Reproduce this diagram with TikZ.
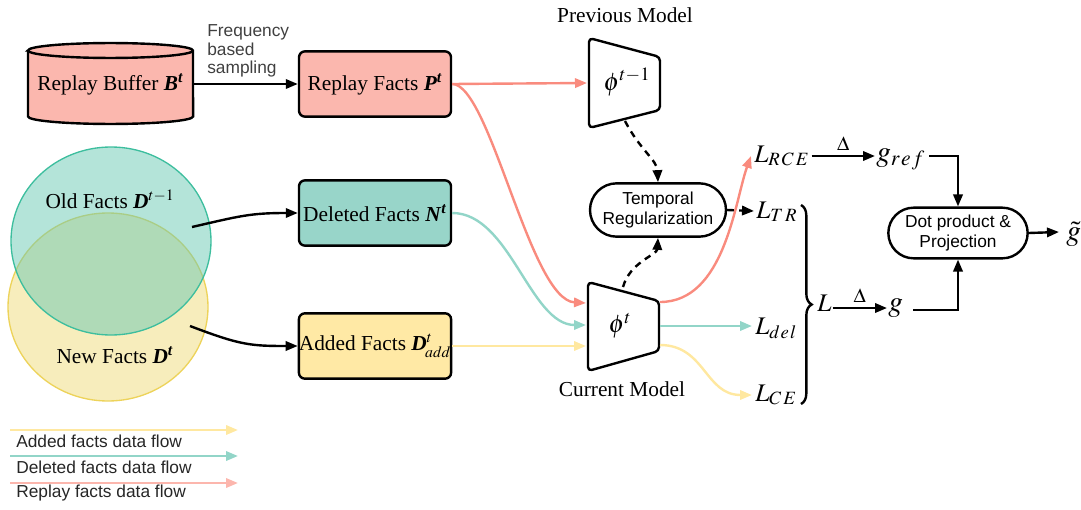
\documentclass[tikz,border=0pt]{standalone}
\usepackage{mathptmx}
\usepackage{fontspec}
\setmainfont{Liberation Serif}
\setsansfont{Liberation Sans}
\usetikzlibrary{arrows.meta,shapes.misc,decorations.pathreplacing,calc}
\definecolor{redflow}{HTML}{F98B7E}
\definecolor{redlight}{HTML}{FCB6AD}
\definecolor{tealflow}{HTML}{92D5C8}
\definecolor{yelflow}{HTML}{FFE8A0}
\definecolor{redfill}{HTML}{FBB7AE}
\definecolor{tealfill}{HTML}{98D5C9}
\definecolor{yelfill}{HTML}{FFE9A5}
\definecolor{oldfill}{HTML}{69C9B3}
\definecolor{olddraw}{HTML}{3DBE9E}
\definecolor{newfill}{HTML}{F7EDBC}
\definecolor{newdraw}{HTML}{EDD35A}
\definecolor{graytext}{HTML}{404040}
\newcommand\serifsz{\fontsize{16}{19}\selectfont}
\newcommand\sanssz{\sffamily\fontsize{13}{15}\selectfont}
\newcommand\mathsz{\fontsize{19}{22}\selectfont}
\newcommand\gsz{\fontsize{22}{26}\selectfont}
\newcommand\deltasz{\fontsize{15}{18}\selectfont}
\begin{document}
\begin{tikzpicture}[x=0.75pt,y=-0.75pt,
  lw/.style={line width=1.8pt},
  tip/.style={-{Triangle[length=9pt,width=7pt]}},
  blk/.style={lw,tip,black},
  rfl/.style={lw,tip,color=redflow},
  tfl/.style={lw,tip,color=tealflow},
  yfl/.style={lw,tip,color=yelflow},
  dsh/.style={lw,tip,black,dash pattern=on 5pt off 4pt},
  fbox/.style={draw=black,line width=1.8pt,rounded corners=4.5pt,minimum width=114pt,minimum height=49pt,inner sep=0pt,font=\serifsz},
  stad/.style={draw=black,line width=1.8pt,rounded rectangle,inner sep=1pt,font=\sanssz,align=center},
  trap/.style={draw=black,line width=1.8pt,rounded corners=3pt,line join=round},
  mth/.style={font=\mathsz,inner sep=0pt},
  gth/.style={font=\gsz,inner sep=0pt},
  lgd/.style={font=\sanssz,anchor=west,inner sep=0pt,text=black!85}
]
\useasboundingbox (0,0) rectangle (1081,510);

% Venn circles
\draw[newdraw,fill=newfill,line width=1pt] (108,307) ellipse [x radius=75pt,y radius=70.5pt];
\draw[olddraw,fill=oldfill,fill opacity=0.5,line width=1pt] (111,241) ellipse [x radius=75pt,y radius=70.5pt];
\node[font=\serifsz] (oldtxt) at (110,199) {Old Facts \textbf{\textit{D}}$^{t-1}$};
\node[font=\serifsz] (newtxt) at (115,355) {New Facts \textbf{\textit{D}}\textsuperscript{\textbf{\textit{t}}}};
\coordinate (oldout) at (192,227);
\coordinate (newout) at (190,326);

% Replay buffer cylinder
\draw[line width=1.8pt,fill=redfill] (28,50.5) -- (28,116.5) arc[start angle=180,end angle=360,x radius=61.9pt,y radius=5.6pt] -- (193,50.5) arc[start angle=0,end angle=180,x radius=61.9pt,y radius=5.6pt] -- cycle;
\draw[line width=1.8pt] (28,50.5) arc[start angle=180,end angle=360,x radius=61.9pt,y radius=5.6pt];
\node[font=\serifsz,minimum width=123.75pt,inner sep=0pt] (buf) at (110.5,84) {Replay Buffer \textbf{\textit{B}}\textsuperscript{\textbf{\textit{t}}}};

% fact boxes
\node[fbox,fill=redfill] (rf) at (375,84) {Replay Facts \textbf{\textit{P}}\textsuperscript{\textbf{\textit{t}}}};
\node[fbox,fill=tealfill] (dl) at (375,213) {Deleted Facts \textbf{\textit{N}}\textsuperscript{\textbf{\textit{t}}}};
\node[fbox,fill=yelfill] (ad) at (375,346) {Added Facts \textbf{\textit{D}}$^{t}_{\!add}$};

\node[font=\sanssz,text=graytext,align=left,anchor=west,inner sep=0pt] (freq) at (207,51) {Frequency\\[-1pt]based\\[-1pt]sampling};

% models
\draw[trap] (589,38) -- (660,57) -- (660,110) -- (589,128) -- cycle;
\draw[trap] (588,282) -- (659,301) -- (659,351) -- (588,371) -- cycle;
\node[mth] (prevphi) at (627,82) {$\phi^{t-1}$};
\node[mth] (curphi) at (620,326) {$\phi^{t}$};
\node[font=\serifsz] (prevlbl) at (625,15) {Previous Model};
\node[font=\serifsz] (curlbl) at (622,389) {Current Model};
\coordinate (previn) at (587,83);
\coordinate (prevbot) at (625,121);
\coordinate (curinr) at (586,303);
\coordinate (curint) at (586,325);
\coordinate (curiny) at (586,346);
\coordinate (curtop) at (623,287);
\coordinate (curoutr) at (660,302);
\coordinate (curoutt) at (660,326);
\coordinate (curouty) at (660,345);

\node[stad,minimum width=104pt,minimum height=40pt] (tr) at (658,210) {Temporal\\Regularization};
\node[stad,minimum width=106.5pt,minimum height=38pt] (dot) at (958,233) {Dot product \&\\Projection};

% loss labels
\node[mth,anchor=base west] (lrce) at (754,162) {$L_{R\mkern2mu C\mkern2mu E}$};
\node[mth,anchor=base west] (ltr) at (756,218) {$L_{T\mkern2mu R}$};
\node[mth,anchor=base west] (ldel) at (755,334) {$L_{d\mkern1mu e\mkern1mu l}$};
\node[mth,anchor=base west] (lce) at (755,401) {$L_{C\mkern2mu E}$};
\node[mth,anchor=base west] (lall) at (817,311) {$L$};
\node[gth,anchor=base west] (gref) at (876,161) {$g_{r\mkern1mu e\mkern1mu f}$};
\node[gth,anchor=base west] (gg) at (888,311) {$g$};
\node[gth,anchor=base west] (gt) at (1066,240) {$\tilde{g}$};

% brace
\draw[decorate,decoration={brace,amplitude=8pt},line width=1.8pt] (801,205) -- (801,404);

% data flows
\draw[rfl] (rf.east) -- (previn);
\draw[rfl] (rf.east) .. controls (490,84) and (530,300) .. (curinr);
\draw[tfl] (dl.east) .. controls (510,213) and (530,325) .. (curint);
\draw[yfl] (ad.east) -- (curiny);
\draw[rfl] (curoutr) .. controls (725,302) and (735,200) .. ($(lrce.base west)+(-3,-6)$);
\draw[tfl] (curoutt) -- ($(ldel.base west)+(-3,-8)$);
\draw[yfl] (curouty) .. controls (705,345) and (705,395) .. ($(lce.base west)+(-3,-6)$);

% black arrows
\draw[blk] (buf.east) -- (rf.west);
\draw[blk] (oldout) .. controls (240,216) and (250,213) .. (dl.west);
\draw[blk] (newout) .. controls (240,345) and (250,346) .. (ad.west);
\draw[dsh] (prevbot) .. controls (640,150) and (657,160) .. (tr.north);
\draw[dsh] (curtop) .. controls (630,262) and (657,255) .. (tr.south);
\draw[dsh] (tr.east) -- ($(ltr.base west)+(-2,-7)$);
\draw[blk] ($(lrce.base east)+(2,-6)$) -- node[above=1pt,font=\deltasz,inner sep=2pt] (d1) {$\Delta$} ($(gref.base west)+(-1,-5)$);
\draw[blk] ($(lall.base east)+(1,-3)$) -- node[above=1pt,font=\deltasz,inner sep=2pt] (d2) {$\Delta$} ($(gg.base west)+(-1,-3)$);
\draw[blk] ($(gref.base east)+(4,-5)$) -| (dot.north);
\draw[blk] ($(gg.base east)+(10,-1)$) -| (dot.south);
\draw[blk] (dot.east) -- ($(gt.base west)+(-7,-8)$);

% legend
\draw[yfl] (10,430) -- (238,430);
\node[lgd] (lg1) at (16,441) {Added facts data flow};
\draw[tfl] (10,456) -- (238,456);
\node[lgd] (lg2) at (16,467) {Deleted facts data flow};
\draw[lw,tip,color=redlight] (10,483) -- (238,483);
\node[lgd] (lg3) at (16,493) {Replay facts data flow};
\end{tikzpicture}
\end{document}
